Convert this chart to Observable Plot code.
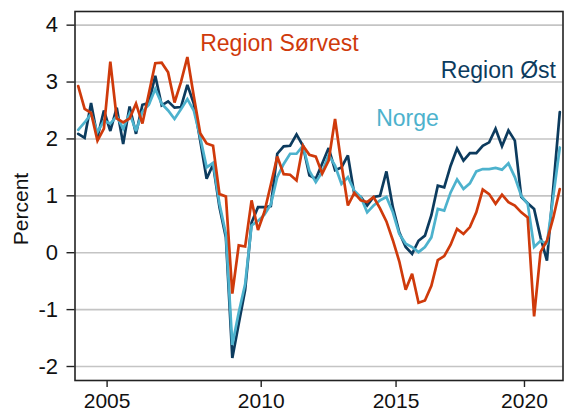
<!DOCTYPE html>
<html><head><meta charset="utf-8">
<script src="https://cdn.jsdelivr.net/npm/d3@7"></script>
<script src="https://cdn.jsdelivr.net/npm/@observablehq/plot@0.6"></script>
<style>body{margin:0;background:#fff} svg{display:block}</style>
</head><body><div id="chart"></div>
<script>
// Values per survey round (evenly spaced categories)
const sorvest = [2.93,2.53,2.46,1.97,2.18,3.36,2.36,2.29,2.36,2.62,2.27,2.8,3.33,3.34,3.17,2.64,3.0,3.44,2.75,2.1,
  1.92,1.88,1.03,0.99,-0.72,0.13,0.11,0.92,0.40,0.72,1.2,1.69,1.38,1.37,1.27,1.88,1.72,1.69,1.39,1.62,
  2.35,1.55,0.83,1.05,0.92,0.89,0.98,0.78,0.55,0.22,-0.15,-0.65,-0.37,-0.88,-0.84,-0.58,-0.13,-0.06,0.14,0.42,
  0.33,0.45,0.71,1.11,1.03,0.86,1.02,0.89,0.83,0.71,0.62,-1.12,0.01,0.21,0.62,1.12];
const ost = [2.09,2.02,2.63,2.03,2.5,2.14,2.55,1.91,2.57,2.09,2.6,2.63,3.11,2.59,2.66,2.55,2.56,2.95,2.62,1.97,
  1.3,1.55,0.8,0.27,-1.85,-1.25,-0.65,0.53,0.8,0.8,0.82,1.74,1.87,1.88,2.08,1.88,1.36,1.3,1.57,1.84,
  1.45,1.5,1.71,1.03,0.98,0.83,0.98,1.0,1.43,0.8,0.36,0.1,-0.02,0.21,0.3,0.66,1.18,1.15,1.53,1.83,
  1.62,1.75,1.75,1.88,1.94,2.18,1.87,2.15,1.97,0.98,0.87,0.77,0.27,-0.14,1.16,2.47];
const norge = [2.16,2.29,2.44,2.12,2.32,2.27,2.4,2.18,2.45,2.14,2.48,2.6,2.88,2.62,2.5,2.35,2.52,2.7,2.5,2.03,
  1.5,1.58,0.86,0.33,-1.62,-1.05,-0.55,0.48,0.56,0.67,0.85,1.33,1.56,1.74,1.74,1.88,1.44,1.24,1.42,1.72,
  1.53,1.21,1.33,1.09,0.98,0.71,0.83,0.92,0.98,0.71,0.33,0.16,0.1,0.01,0.1,0.27,0.77,0.74,1.06,1.29,
  1.12,1.22,1.43,1.47,1.47,1.49,1.46,1.57,1.33,1.0,0.86,0.1,0.21,0.16,1.0,1.85];

const seriesNames = ["Region Øst", "Norge", "Region Sørvest"];
const seriesColors = ["#0c3b5e", "#4db2cd", "#cf3a0b"];
const seriesValues = [ost, norge, sorvest];

const tickYears = [2005, 2010, 2015, 2020];
const yearStartIndex = [5, 29, 50, 70];   // first round of each labelled year
const yTicks = [-2, -1, 0, 1, 2, 3, 4];
const yLabel = "Percent";

// Direct labels (anchored in data space)
const labelNames = ["Region Sørvest", "Region Øst", "Norge"];
const labelX = [19.0, 74.4, 46.4];
const labelY = [3.54, 3.07, 2.22];
const labelAnchor = ["start", "end", "start"];

const rows = seriesNames.flatMap((name, k) => seriesValues[k].map((v, i) => ({i, v, name})));
const labels = labelNames.map((name, k) => ({name, x: labelX[k], y: labelY[k], anchor: labelAnchor[k]}));
const n = sorvest.length;
const xTicks = yearStartIndex.map(i => i - 0.5);
const tickLabel = new Map(xTicks.map((t, k) => [t, String(tickYears[k])]));

const font = "'Liberation Sans', Arial, sans-serif";
const chart = Plot.plot({
  width: 564, height: 414,
  marginLeft: 74.5, marginRight: 1.5, marginTop: 11, marginBottom: 34,
  style: {fontFamily: font, fontSize: "22px", background: "#fff", color: "#111"},
  x: {domain: [-0.5, n - 0.5]},
  y: {domain: [-2.246, 4.24]},
  color: {domain: seriesNames, range: seriesColors},
  marks: [
    Plot.ruleY(yTicks, {stroke: "#c4c4c4", strokeWidth: 1.6}),
    Plot.line(rows, {x: "i", y: "v", z: "name", stroke: "name", strokeWidth: 2.7, strokeLinejoin: "miter", strokeMiterlimit: 3}),
    Plot.text(labels.filter(d => d.anchor === "start"), {x: "x", y: "y", text: "name", fill: d => d.name, textAnchor: "start", lineAnchor: "bottom", fontSize: 23}),
    Plot.text(labels.filter(d => d.anchor === "end"), {x: "x", y: "y", text: "name", fill: d => d.name, textAnchor: "end", lineAnchor: "bottom", fontSize: 23}),
    Plot.frame({stroke: "#222", strokeWidth: 1.6}),
    Plot.axisY(yTicks, {tickSize: 8, tickPadding: 9, fontSize: 22, label: null, tickFormat: d => String(d), stroke: "#222", strokeWidth: 1.4, fill: "#111"}),
    Plot.axisX(xTicks, {tickSize: 7, tickPadding: 6, fontSize: 21, label: null, tickFormat: t => tickLabel.get(t), stroke: "#222", strokeWidth: 1.4, fill: "#111"}),
    Plot.text([yLabel], {frameAnchor: "left", textAnchor: "middle", lineAnchor: "middle", dx: -54, dy: 13, rotate: -90, fontSize: 21, fill: "#111"})
  ]
});
document.getElementById("chart").appendChild(chart);
</script>
</body></html>
